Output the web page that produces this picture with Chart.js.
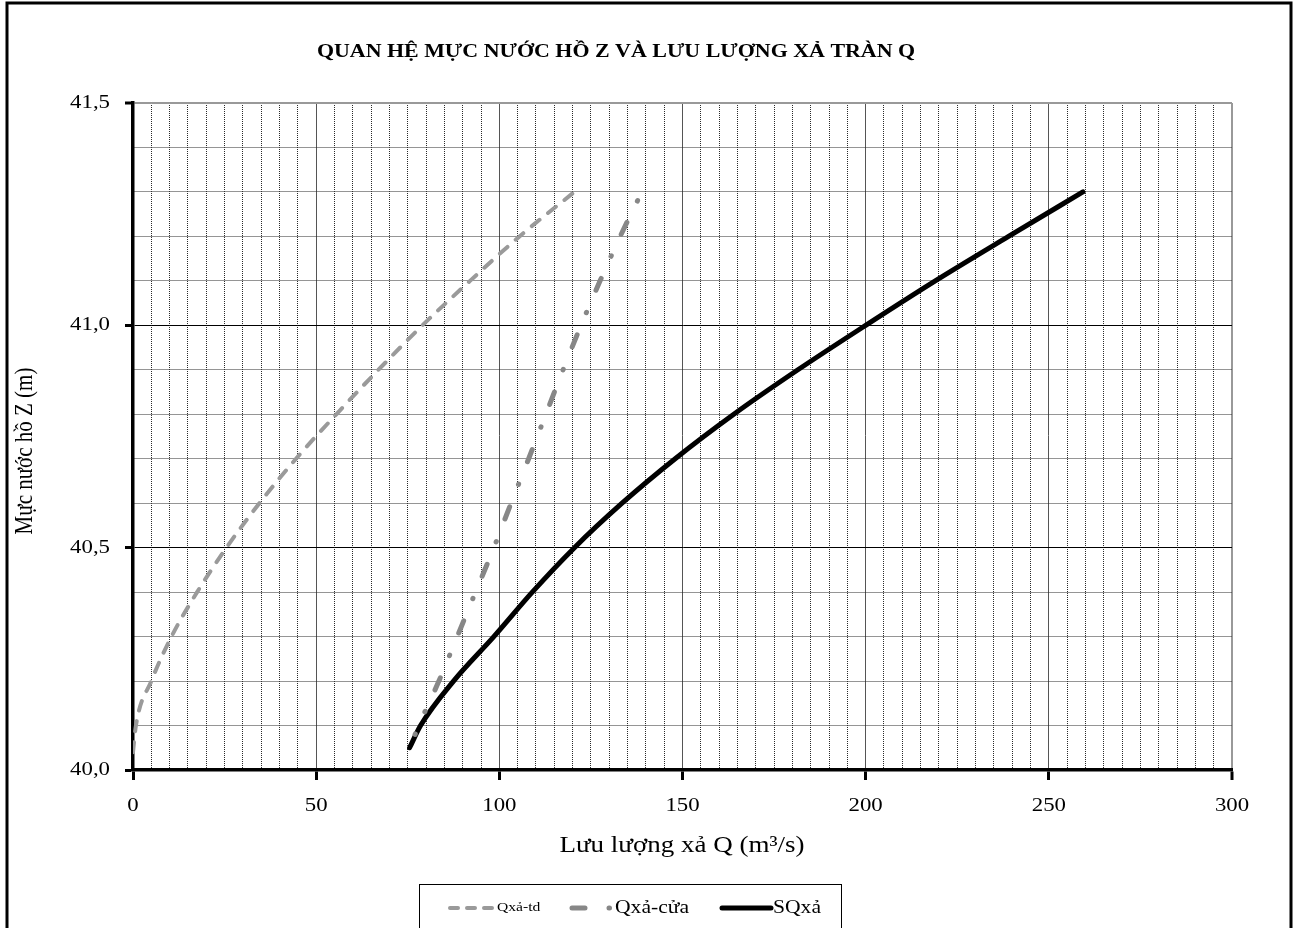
<!DOCTYPE html>
<html>
<head>
<meta charset="utf-8">
<script src="https://cdn.jsdelivr.net/npm/chart.js@4.4.1/dist/chart.umd.min.js"></script>
<style>
  html, body { margin: 0; padding: 0; background: #fff; }
  #wrap { position: relative; width: 1298px; height: 928px; overflow: hidden; }
</style>
</head>
<body>
<div id="wrap"><canvas id="chart" width="1298" height="928"></canvas></div>
<script>
// mực nước hồ Z (m) và lưu lượng xả Q (m3/s) của từng đường
var zTd  = [40.04, 40.1, 40.2, 40.3, 40.4, 40.5, 40.6, 40.7, 40.8, 40.9, 41.0, 41.1, 41.2, 41.3];
var qTd  = [0, 0.8, 5, 10.5, 17.5, 25.5, 34.5, 44.5, 55.5, 67, 79, 92, 105.5, 120.5];
var zCua = [40.08, 40.1, 40.2, 40.3, 40.4, 40.5, 40.6, 40.7, 40.8, 40.9, 41.0, 41.1, 41.2, 41.29];
var qCua = [77, 78, 83.5, 88.5, 93.5, 98.5, 103.2, 108, 112.7, 117.4, 122.3, 127.5, 133, 138.3];
var zSum = [40.05, 40.1, 40.2, 40.3, 40.4, 40.5, 40.6, 40.7, 40.8, 40.9, 41.0, 41.1, 41.2, 41.3];
var qSum = [75.5, 78.5, 87.5, 98.5, 109, 120.5, 133.5, 148, 164, 181.5, 200, 219, 239, 259.3];

var seriesNames = ['Qxả-td', 'Qxả-cửa', 'SQxả'];
var xMajor = [0, 50, 100, 150, 200, 250, 300];
var yMajor = ['40,0', '40,5', '41,0', '41,5'];

var chartTitle = 'QUAN HỆ MỰC NƯỚC HỒ Z VÀ LƯU LƯỢNG XẢ TRÀN Q';
var xTitle = 'Lưu lượng xả Q (m³/s)';
var yTitle = 'Mực nước hồ Z (m)';

var FONT = '"Liberation Serif", "Times New Roman", serif';
var SX = 1.2; // text is drawn a little wide

function pts(xs, ys) {
  return xs.map(function(q, i) { return { x: q, y: ys[i] }; });
}

function yIdx(v) { return Math.round(v * 10); }

function wideText(c, txt, x, y, font, align, rot) {
  c.save();
  c.translate(x, y);
  if (rot) c.rotate(rot);
  c.scale(rot ? 1 : SX, rot ? SX : 1);
  c.font = font;
  c.textAlign = align;
  c.textBaseline = 'middle';
  c.fillText(txt, 0, 0);
  c.restore();
}

// title, tick labels, axis titles, legend box and outer frame
var decor = {
  id: 'decor',
  afterDraw: function(chart) {
    var c = chart.ctx;
    var ds = chart.data.datasets;
    var sx = chart.scales.x, sy = chart.scales.y;
    c.save();
    c.fillStyle = '#000';

    wideText(c, chartTitle, 616, 52, 'bold 18.3px ' + FONT, 'center');

    sx.ticks.forEach(function(t) {
      if (xMajor.indexOf(t.value) >= 0)
        wideText(c, String(t.value), sx.getPixelForValue(t.value), 806, '19px ' + FONT, 'center');
    });
    sy.ticks.forEach(function(t) {
      var k = yIdx(t.value);
      if (k % 5 === 0)
        wideText(c, yMajor[(k - 400) / 5], 110, sy.getPixelForValue(t.value), '19px ' + FONT, 'right');
    });

    wideText(c, xTitle, 682, 846, '22.5px ' + FONT, 'center');
    wideText(c, yTitle, 25, 451, '21px ' + FONT, 'center', -Math.PI / 2);

    // legend
    c.lineWidth = 1;
    c.strokeStyle = '#000';
    c.strokeRect(419.5, 884.5, 422, 60);
    var items = [
      { x0: 450, x1: 492, tx: 497, size: 13, dash: [8, 9] },
      { x0: 572, x1: 611, tx: 615, size: 18 },
      { x0: 722, x1: 771, tx: 773, size: 18 }
    ];
    var ly = 908;
    items.forEach(function(it, i) {
      var d = ds[i];
      c.save();
      c.strokeStyle = d.borderColor;
      c.lineWidth = d.borderWidth;
      c.lineCap = d.borderCapStyle || 'butt';
      c.setLineDash(it.dash || d.borderDash || []);
      c.beginPath();
      c.moveTo(it.x0, ly);
      c.lineTo(it.x1, ly);
      c.stroke();
      c.restore();
      wideText(c, d.label, it.tx, ly, it.size + 'px ' + FONT, 'left');
    });

    c.lineWidth = 3;
    c.strokeRect(7, 3, 1284, 1000);
    c.restore();
  }
};

var ctx = document.getElementById('chart').getContext('2d');
var chart = new Chart(ctx, {
  type: 'scatter',
  data: {
    datasets: [
      { label: seriesNames[0], data: pts(qTd, zTd), showLine: true, borderColor: '#9a9a9a',
        borderWidth: 4, borderDash: [10, 11], borderCapStyle: 'round', pointRadius: 0,
        cubicInterpolationMode: 'monotone' },
      { label: seriesNames[1], data: pts(qCua, zCua), showLine: true, borderColor: '#878787',
        borderWidth: 5, borderDash: [13, 24, 0.5, 24], borderDashOffset: 12.5, borderCapStyle: 'round',
        pointRadius: 0, cubicInterpolationMode: 'monotone' },
      { label: seriesNames[2], data: pts(qSum, zSum), showLine: true, borderColor: '#000',
        borderWidth: 5, borderCapStyle: 'round', pointRadius: 0,
        cubicInterpolationMode: 'monotone' }
    ]
  },
  options: {
    responsive: false,
    animation: false,
    layout: { padding: { left: 0, top: 103, right: 66, bottom: 98 } },
    plugins: {
      legend: { display: false },
      title: { display: false },
      tooltip: { enabled: false }
    },
    scales: {
      x: {
        type: 'linear', min: 0, max: 300,
        afterFit: function(s) { s.height = 60; },
        ticks: { display: false, stepSize: 5, autoSkip: false, maxRotation: 0 },
        grid: {
          color: function(c) {
            var v = c.tick.value;
            if (v === 300) return '#999';
            return v % 50 === 0 ? '#555' : '#2a2a2a';
          },
          lineWidth: function(c) { return c.tick.value === 300 ? 2 : 1; },
          tickLength: 10,
          tickWidth: 3,
          tickColor: function(c) { return c.tick.value % 50 === 0 ? '#000' : 'rgba(0,0,0,0)'; }
        },
        border: {
          display: true, color: '#000', width: 3.5,
          dash: function(c) { return (c.tick && c.tick.value % 50 !== 0) ? [1, 1] : []; }
        }
      },
      y: {
        type: 'linear', min: 40, max: 41.5,
        afterFit: function(s) { s.width = 133; },
        ticks: { display: false, stepSize: 0.1, autoSkip: false },
        grid: {
          color: function(c) {
            var k = yIdx(c.tick.value);
            if (k === 415) return '#999';
            return k % 5 === 0 ? '#000' : '#2a2a2a';
          },
          lineWidth: function(c) { return yIdx(c.tick.value) === 415 ? 2 : 1; },
          tickLength: 8,
          tickWidth: 3,
          tickColor: function(c) { return yIdx(c.tick.value) % 5 === 0 ? '#000' : 'rgba(0,0,0,0)'; }
        },
        border: {
          display: true, color: '#000', width: 3.5,
          dash: function(c) { return (c.tick && yIdx(c.tick.value) % 5 !== 0) ? [1, 1] : []; }
        }
      }
    }
  },
  plugins: [decor]
});
</script>
</body>
</html>
